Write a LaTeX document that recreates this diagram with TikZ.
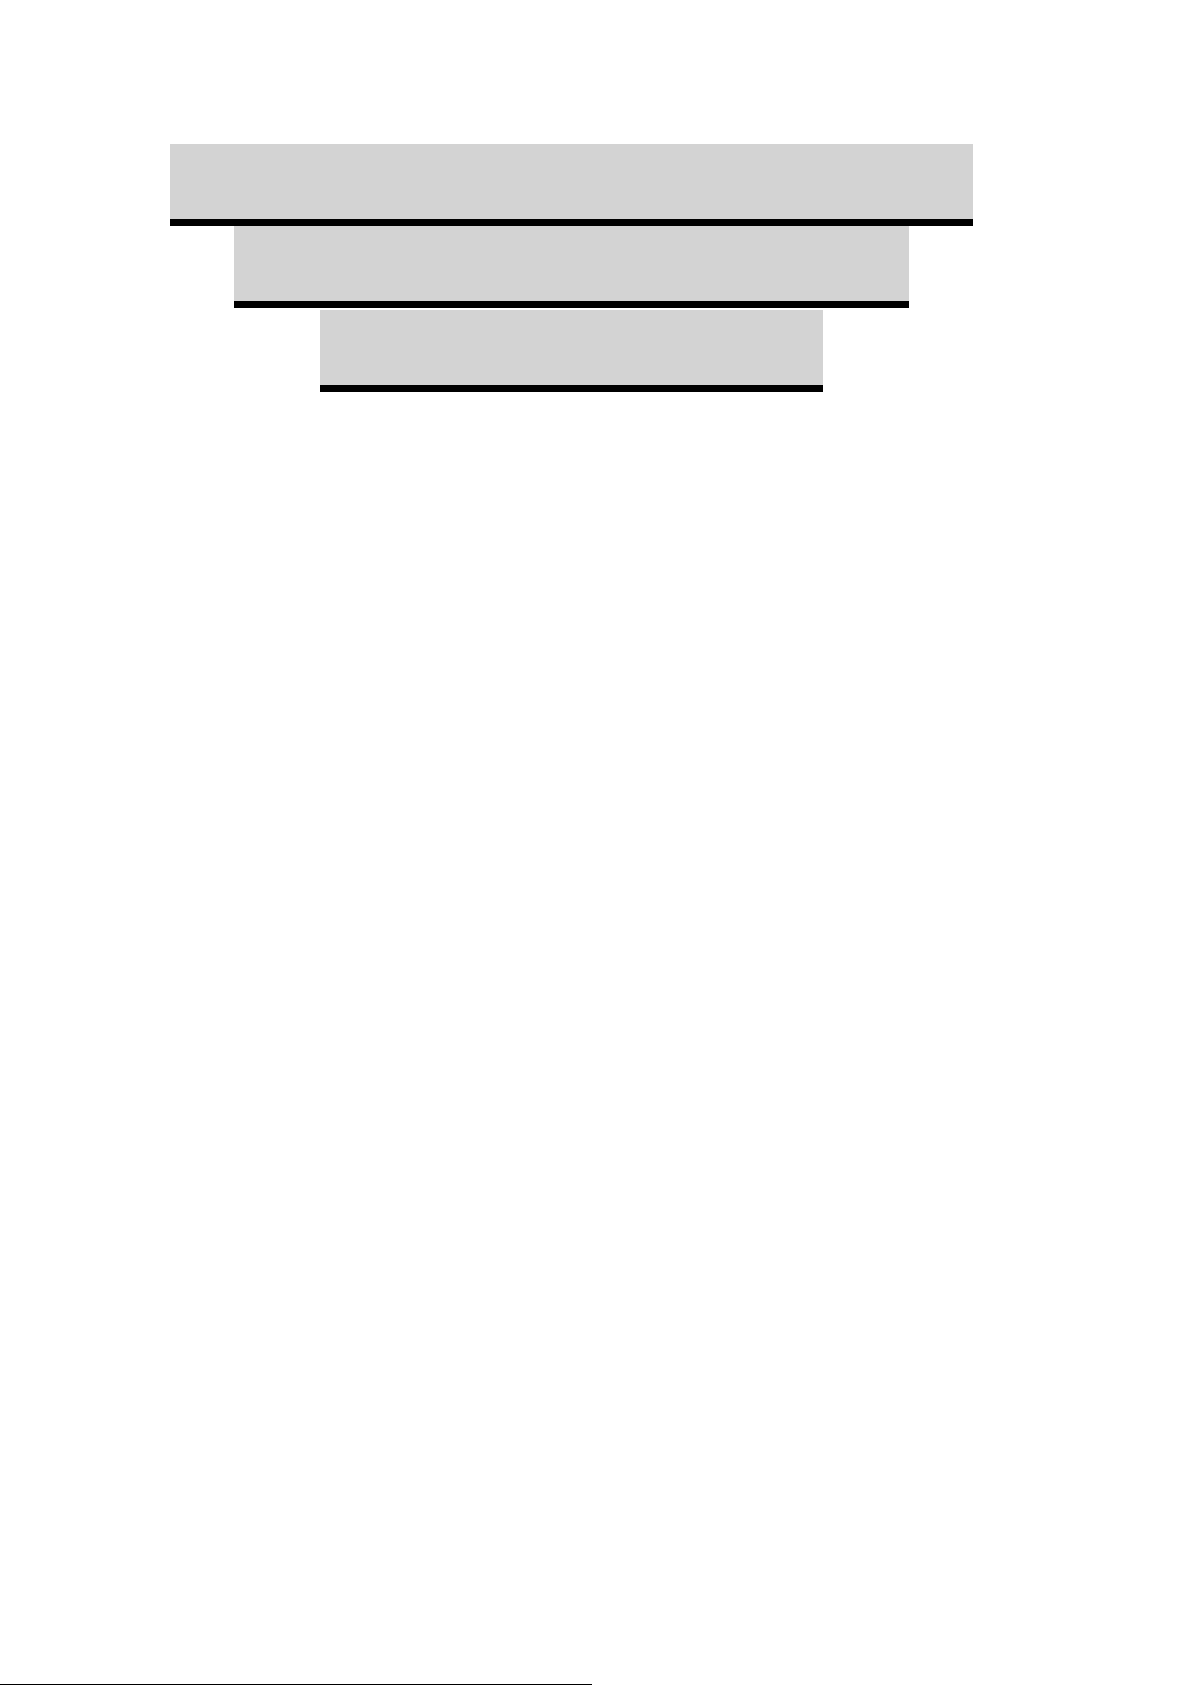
\documentclass[tikz,border=0pt]{standalone}
\usetikzlibrary{positioning}

\begin{document}
\begin{tikzpicture}[x=1pt,y=-1pt,
   tier/.style={fill={rgb,255:red,211;green,211;blue,211},inner sep=0pt,outer sep=0pt,minimum height=75pt},
   tierbar/.style={fill=black,inner sep=0pt,outer sep=0pt,minimum height=7pt},
   rule/.style={line width=1pt}]
\useasboundingbox[fill=white] (0,0) rectangle (1191,1685);
% three stacked tiers
\node[tier,minimum width=803pt,anchor=north west] (tierA) at (170,144) {};
\node[tierbar,minimum width=803pt,below=0pt of tierA] (barA) {};
\node[tier,minimum width=675pt,below=0.5pt of barA] (tierB) {};
\node[tierbar,minimum width=675pt,below=0pt of tierB] (barB) {};
\node[tier,minimum width=503pt,below=1.5pt of barB] (tierC) {};
\node[tierbar,minimum width=503pt,below=0pt of tierC] (barC) {};
% footnote rule
\coordinate (ruleL) at (0,1684);
\coordinate (ruleR) at (592,1684);
\draw[rule] (ruleL) -- (ruleR);
\end{tikzpicture}
\end{document}
